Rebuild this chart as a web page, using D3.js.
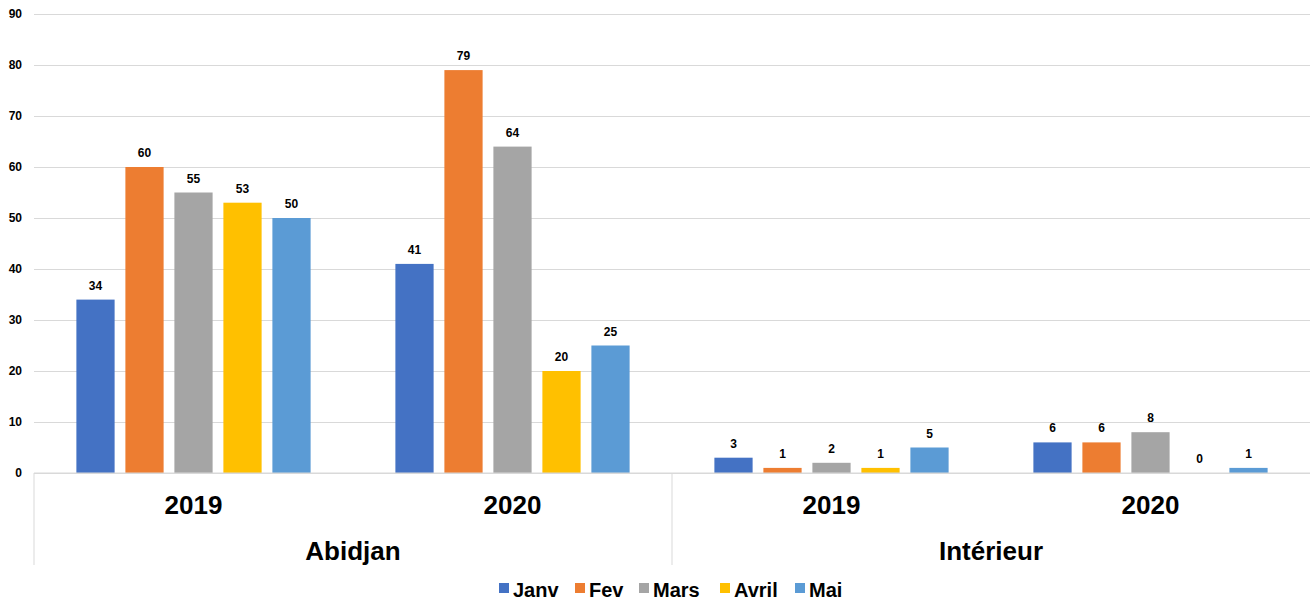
<!DOCTYPE html>
<html>
<head>
<meta charset="utf-8">
<script src="https://cdn.jsdelivr.net/npm/d3@7"></script>
<style>
  body { margin: 0; background: #fff; }
  svg { display: block; font-family: 'Liberation Sans', Arial, sans-serif; }
</style>
</head>
<body>
<svg width="1310" height="601"></svg>
<script>
const months = ['Janv', 'Fev', 'Mars', 'Avril', 'Mai'];
const regions = ['Abidjan', 'Intérieur'];
const years = ['2019', '2020'];
const abidjan2019 = [34, 60, 55, 53, 50];
const abidjan2020 = [41, 79, 64, 20, 25];
const interieur2019 = [3, 1, 2, 1, 5];
const interieur2020 = [6, 6, 8, 0, 1];
const yTicks = [0, 10, 20, 30, 40, 50, 60, 70, 80, 90];
const colors = ['#4472c4', '#ed7d31', '#a5a5a5', '#ffc000', '#5b9bd5'];

const groups = [
    { region: regions[0], year: years[0], values: abidjan2019 },
    { region: regions[0], year: years[1], values: abidjan2020 },
    { region: regions[1], year: years[0], values: interieur2019 },
    { region: regions[1], year: years[1], values: interieur2020 }
];

const svg = d3.select('svg'),
    plotLeft = 34,
    plotRight = 1310,
    plotTop = 14,
    plotBottom = 473;

const x0 = d3.scaleBand()
    .domain(groups.map((d, i) => i))
    .range([plotLeft, plotRight]);

const x1 = d3.scaleBand()
    .domain(months)
    .range([0, x0.bandwidth()])
    .paddingInner(0.22)
    .paddingOuter(0.865);

const y = d3.scaleLinear().domain([0, 90]).range([plotBottom, plotTop]);

const z = d3.scaleOrdinal().domain(months).range(colors);

// grid + y labels
const yAxis = svg.append('g')
    .attr('transform', 'translate(' + plotLeft + ',0)')
    .call(d3.axisLeft(y).tickValues(yTicks).tickSize(-(plotRight - plotLeft)).tickPadding(12));

yAxis.select('.domain').remove();
yAxis.selectAll('.tick line').attr('stroke', '#d9d9d9');
yAxis.selectAll('.tick text')
    .attr('fill', '#000')
    .attr('font-size', 12)
    .attr('font-weight', 'bold')
    .attr('font-family', "'Liberation Sans', Arial, sans-serif");

// bars
const group = svg.append('g')
    .selectAll('g')
    .data(groups)
    .enter().append('g')
    .attr('transform', (d, i) => 'translate(' + x0(i) + ',0)');

group.selectAll('rect')
    .data(d => d.values.map((v, j) => ({ key: months[j], value: v })))
    .enter().append('rect')
    .attr('x', d => x1(d.key))
    .attr('y', d => y(d.value))
    .attr('width', x1.bandwidth())
    .attr('height', d => y(0) - y(d.value))
    .attr('fill', d => z(d.key));

group.selectAll('text.val')
    .data(d => d.values.map((v, j) => ({ key: months[j], value: v })))
    .enter().append('text')
    .attr('class', 'val')
    .attr('x', d => x1(d.key) + x1.bandwidth() / 2)
    .attr('y', d => y(d.value) - 10)
    .attr('text-anchor', 'middle')
    .attr('font-size', 12)
    .attr('font-weight', 'bold')
    .text(d => d.value);

// category axis
svg.append('line')
    .attr('x1', plotLeft).attr('x2', plotRight)
    .attr('y1', y(0)).attr('y2', y(0))
    .attr('stroke', '#d9d9d9');

svg.append('g')
    .selectAll('line')
    .data(regions)
    .enter().append('line')
    .attr('x1', (d, i) => x0(i * 2))
    .attr('x2', (d, i) => x0(i * 2))
    .attr('y1', y(0))
    .attr('y2', 565)
    .attr('stroke', '#d9d9d9');

svg.append('g')
    .selectAll('text')
    .data(groups)
    .enter().append('text')
    .attr('x', (d, i) => x0(i) + x0.bandwidth() / 2)
    .attr('y', 514)
    .attr('text-anchor', 'middle')
    .attr('font-size', 26)
    .attr('font-weight', 'bold')
    .text(d => d.year);

svg.append('g')
    .selectAll('text')
    .data(regions)
    .enter().append('text')
    .attr('x', (d, i) => x0(i * 2) + x0.bandwidth())
    .attr('y', 560)
    .attr('text-anchor', 'middle')
    .attr('font-size', 26)
    .attr('font-weight', 'bold')
    .text(d => d);

// legend
const legendX = [499, 575, 639, 720, 795];
const legend = svg.append('g')
    .selectAll('g')
    .data(months)
    .enter().append('g')
    .attr('transform', (d, i) => 'translate(' + legendX[i] + ',583)');

legend.append('rect')
    .attr('width', 10)
    .attr('height', 10)
    .attr('fill', z);

legend.append('text')
    .attr('x', 14)
    .attr('y', 14)
    .attr('font-size', 20)
    .attr('font-weight', 'bold')
    .text(d => d);
</script>
</body>
</html>
